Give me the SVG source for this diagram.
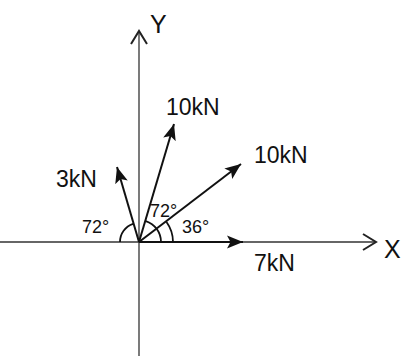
<svg xmlns="http://www.w3.org/2000/svg" width="408" height="356" viewBox="0 0 408 356">
<style>
.ax{stroke:#333;stroke-width:1.3;fill:none}
.f{stroke:#111;stroke-width:2;fill:none}
.arc{stroke:#111;stroke-width:1.8;fill:none}
text{font-family:"Liberation Sans",Arial,sans-serif;fill:#111}
.lb{font-size:23px}
.ang{font-size:18px}
.axl{font-size:25px}
</style>
<defs>
<marker id="head" markerUnits="userSpaceOnUse" markerWidth="18" markerHeight="14" refX="16" refY="7" orient="auto">
<path d="M0,0.5 L16,7 L0,13.5 L3.5,7 Z" fill="#111"/>
</marker>
<marker id="open" markerUnits="userSpaceOnUse" markerWidth="16" markerHeight="18" refX="14" refY="9" orient="auto">
<path d="M1,1 L14,9 L1,17" fill="none" stroke="#222" stroke-width="2"/>
</marker>
</defs>
<rect width="408" height="356" fill="#fff"/>
<g id="axes">
<line class="ax" x1="139" y1="356" x2="139" y2="31" marker-end="url(#open)"/>
<line class="ax" x1="0" y1="242" x2="376" y2="242" marker-end="url(#open)"/>
<text class="axl" x="150" y="33">Y</text>
<text class="axl" x="384" y="258">X</text>
</g>
<g id="connectors">
<line class="f" x1="139" y1="242" x2="117" y2="167" marker-end="url(#head)"/>
<line class="f" x1="139" y1="242" x2="174" y2="124" marker-end="url(#head)"/>
<line class="f" x1="139" y1="242" x2="241" y2="164" marker-end="url(#head)"/>
<line class="f" x1="139" y1="242" x2="243" y2="242" stroke-width="2.6" marker-end="url(#head)"/>
</g>
<g id="angles">
<path class="arc" d="M120,242 A19,19 0 0,1 133.1,223.9"/>
<path class="arc" d="M161,242 A22,22 0 0,0 145.8,221.1"/>
<path class="arc" d="M173,242 A34,34 0 0,0 166.5,222"/>
<text class="ang" x="82" y="233">72°</text>
<text class="ang" x="150" y="217">72°</text>
<text class="ang" x="182" y="233">36°</text>
</g>
<g id="force-3kN"><text class="lb" x="56" y="187">3kN</text></g>
<g id="force-10kN-72"><text class="lb" x="166" y="115">10kN</text></g>
<g id="force-10kN-36"><text class="lb" x="254" y="163">10kN</text></g>
<g id="force-7kN"><text class="lb" x="254" y="271">7kN</text></g>
</svg>
